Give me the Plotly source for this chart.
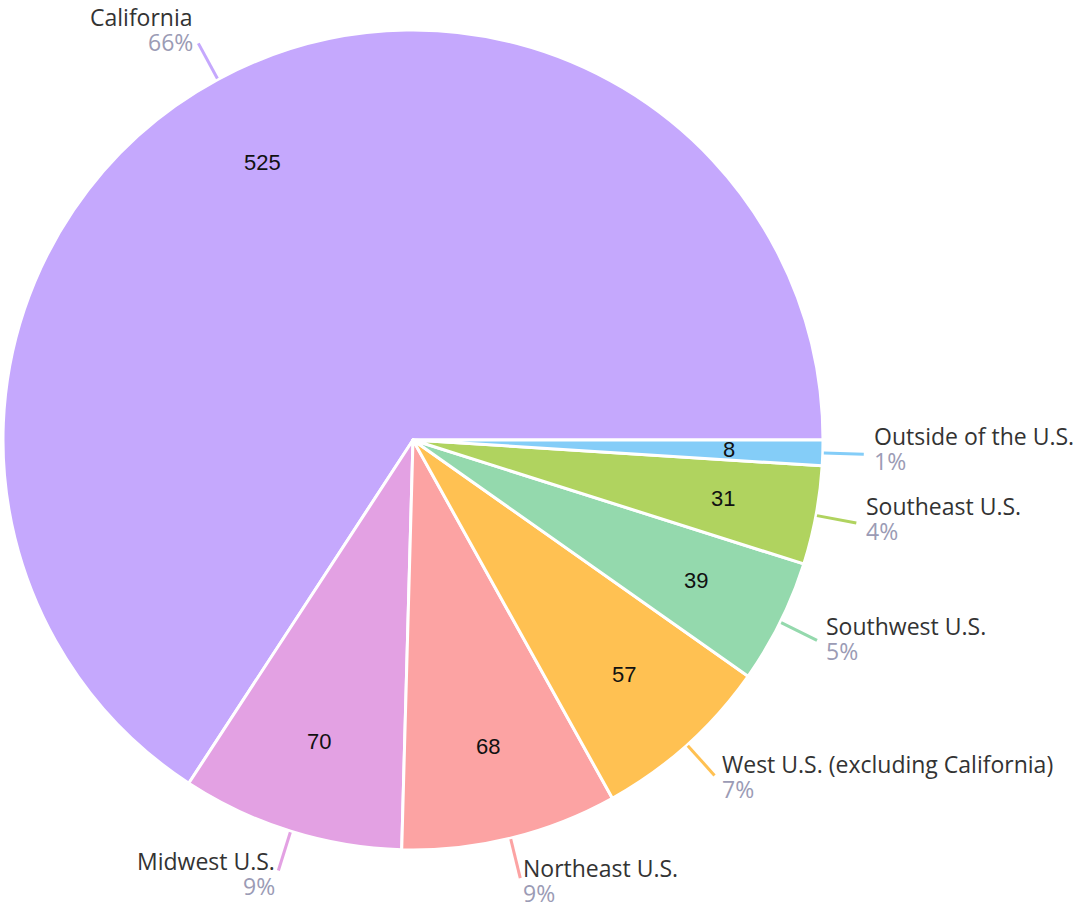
import math
import plotly.graph_objects as go

# ---- data ----
regions = ["California", "Midwest U.S.", "Northeast U.S.", "West U.S. (excluding California)",
           "Southwest U.S.", "Southeast U.S.", "Outside of the U.S."]
counts = [525, 70, 68, 57, 39, 31, 8]
colors = ["#c5a8fd", "#e3a1e3", "#fca3a3", "#ffc152", "#94d9ad", "#b0d35f", "#84cdf8"]

W, H = 1079, 902
# pie placement in pixels
CX, CY, R = 413, 440, 410
dom_x = [(CX - R) / W, (CX + R) / W]
dom_y = [1 - (CY + R) / H, 1 - (CY - R) / H]

total = sum(counts)
# counterclockwise from 3 o'clock: plotly places the first slice's clockwise start at `rotation`
rotation = 90 - 360 * counts[0] / total

fig = go.Figure(go.Pie(
    labels=regions, values=counts, sort=False, direction="counterclockwise", rotation=rotation,
    marker=dict(colors=colors, line=dict(color="white", width=3)),
    textinfo="none", hoverinfo="label+value+percent",
    domain=dict(x=dom_x, y=dom_y),
))

annotations = []
shapes = []
cum = 0.0
LABEL_FONT = "Open Sans, Lato, sans-serif"
for name, v, col in zip(regions, counts, colors):
    mid = (cum + v / 2) / total * 2 * math.pi
    cum += v
    dx, dy = math.cos(mid), -math.sin(mid)  # screen direction (y down)
    # value label inside
    vx, vy = CX + 0.77 * R * dx, CY + 0.77 * R * dy
    annotations.append(dict(x=vx / W, y=1 - vy / H, xref="paper", yref="paper", text=str(v),
                            showarrow=False, xanchor="center", yanchor="middle",
                            font=dict(family="Liberation Sans, Arial, sans-serif", size=22, color="#111")))
    # leader line
    sx, sy = CX + (R + 1) * dx, CY + (R + 1) * dy
    ex, ey = CX + (R + 41) * dx, CY + (R + 41) * dy
    shapes.append(dict(type="line", xref="paper", yref="paper", x0=sx / W, y0=1 - sy / H,
                       x1=ex / W, y1=1 - ey / H, line=dict(color=col, width=3)))
    # outer label
    gap = max(0.0, 9 * abs(dx) - 1)
    right = dx >= 0
    tx = ex + gap if right else ex - gap
    bc = ey + (-6 + 9 * dy)
    anchor = "left" if right else "right"
    pct = f"{round(v / total * 100)}%"
    annotations.append(dict(x=tx / W, y=1 - (bc - 12.5) / H, xref="paper", yref="paper", text=name,
                            showarrow=False, xanchor=anchor, yanchor="middle",
                            font=dict(family=LABEL_FONT, size=23, color="#333333")))
    annotations.append(dict(x=tx / W, y=1 - (bc + 12.5) / H, xref="paper", yref="paper", text=pct,
                            showarrow=False, xanchor=anchor, yanchor="middle",
                            font=dict(family=LABEL_FONT, size=23, color="#9b9bb5")))

fig.update_layout(
    width=W, height=H, margin=dict(l=0, r=0, t=0, b=0),
    paper_bgcolor="white", plot_bgcolor="white", showlegend=False,
    annotations=annotations, shapes=shapes,
)

fig.write_html("out.html", config={"displayModeBar": False},
               post_script="document.body.style.margin='0';")
